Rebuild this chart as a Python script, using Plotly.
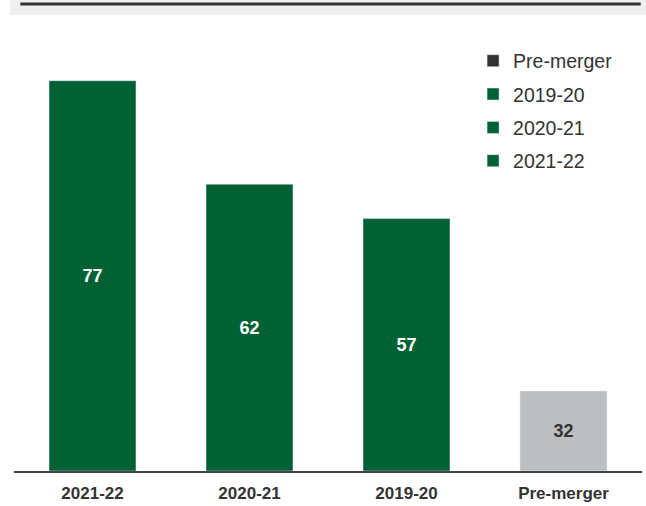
import plotly.graph_objects as go

categories = ["2021-22", "2020-21", "2019-20", "Pre-merger"]
values = [77, 62, 57, 32]
bar_colors = ["#006134", "#006134", "#006134", "#BCBEC0"]
label_colors = ["white", "white", "white", "#333333"]
legend_colors = ["#006134", "#006134", "#006134", "#333333"]

AXIS_MIN = 20.4
FONT = "Liberation Sans, Arial"

fig = go.Figure()
for i, (cat, val) in enumerate(zip(categories, values)):
    fig.add_trace(go.Bar(
        x=[cat], y=[val - AXIS_MIN], base=AXIS_MIN, name=cat,
        marker_color=bar_colors[i],
        text=[f"<b>{val}</b>"], textposition="inside",
        insidetextanchor="middle", textangle=0,
        textfont=dict(color=label_colors[i], size=18, family=FONT),
        showlegend=False,
    ))
    # legend entry (pre-merger swatch is dark in the original)
    fig.add_trace(go.Bar(
        x=[cat], y=[None], name=cat,
        marker_color=legend_colors[i],
        legendrank=100 - i, legendgroup=cat,
        showlegend=True,
    ))

fig.update_layout(
    width=646, height=506,
    margin=dict(l=14, r=4, t=60, b=35),
    plot_bgcolor="white", paper_bgcolor="white",
    barmode="overlay", bargap=0.446,
    font=dict(family=FONT, color="#333333"),
    xaxis=dict(showline=True, linecolor="#444444", linewidth=2, ticks="",
               categoryorder="array", categoryarray=categories,
               tickvals=categories, ticktext=[f"<b>{c}</b>" for c in categories],
               tickfont=dict(size=17, color="#333333", family=FONT),
               ticklabelstandoff=6),
    yaxis=dict(visible=False, range=[AXIS_MIN, 80]),
    legend=dict(x=0.731, y=1.045, xanchor="left", yanchor="top",
                font=dict(size=19.5), tracegroupgap=5,
                bgcolor="rgba(0,0,0,0)"),
    shapes=[
        dict(type="rect", xref="paper", yref="paper", x0=-0.006, x1=1.01,
             y0=1.109, y1=1.146, fillcolor="#EFEFEF", line_width=0, layer="below"),
        dict(type="line", xref="paper", yref="paper", x0=0.01, x1=0.998,
             y0=1.136, y1=1.136, line=dict(color="#333333", width=3)),
    ],
)

fig.write_html("out.html", config={"displayModeBar": False},
               post_script="document.body.style.margin='0';")
